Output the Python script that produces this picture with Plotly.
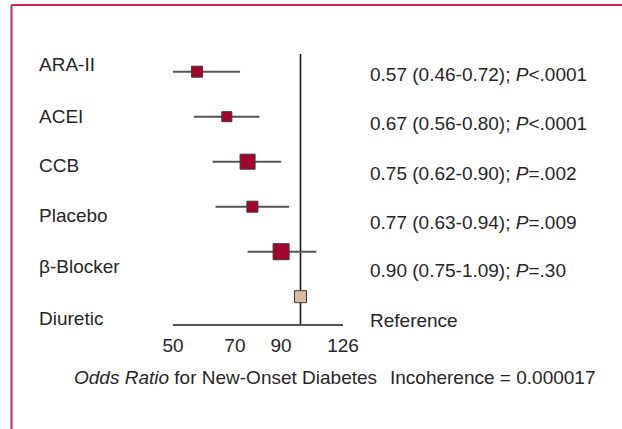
import math
import plotly.graph_objects as go

# ---- data ----
treatments = ["ARA-II", "ACEI", "CCB", "Placebo", "β-Blocker", "Diuretic"]
odds_ratio = [0.57, 0.67, 0.75, 0.77, 0.90]          # vs diuretic
ci_low = [0.46, 0.56, 0.62, 0.63, 0.75]
ci_high = [0.72, 0.80, 0.90, 0.94, 1.09]
p_text = ["&lt;.0001", "&lt;.0001", "=.002", "=.009", "=.30"]
reference_or = 1.00
tick_vals = [50, 70, 90, 126]
tick_text = ["50", "70", "90", "126"]
incoherence = "0.000017"

# ---- layout helpers (pixel -> paper) ----
W, H = 622, 429
L, R, T, B = 173, 343, 54, 324


def px(x):
    return (x - L) / (R - L)


def py(y):
    return (B - y) / (B - T)


FONT = "Liberation Sans, Arial, sans-serif"
TXT = "#262626"
RED = "#a6002f"
TAN = "#d8b9a1"

rows = list(range(len(treatments) - 1, -1, -1))   # 5 ... 0
scale = 100.0

x_or = [v * scale for v in odds_ratio]
sizes = [11, 10, 15, 11, 16]

fig = go.Figure()

# reference line (OR = 1)
fig.add_shape(type="line", xref="x", yref="paper",
              x0=reference_or * scale, x1=reference_or * scale, y0=0, y1=1,
              line=dict(color="#1a1a1a", width=1.6), layer="below")

# confidence interval lines
for lo, hi, r in zip(ci_low, ci_high, rows[:5]):
    fig.add_trace(go.Scatter(
        x=[lo * scale, hi * scale], y=[r, r], mode="lines",
        line=dict(color="#555555", width=2),
        hoverinfo="skip", showlegend=False))

fig.add_trace(go.Scatter(
    x=x_or, y=rows[:5], mode="markers",
    marker=dict(symbol="square", size=sizes, color=RED, opacity=1,
                line=dict(color="#3a3a3a", width=1)),
    hoverinfo="skip", showlegend=False))

fig.add_trace(go.Scatter(
    x=[reference_or * scale], y=[rows[5]], mode="markers",
    marker=dict(symbol="square", size=12, color=TAN, opacity=1,
                line=dict(color="#3a3a3a", width=1)),
    hoverinfo="skip", showlegend=False))

annotations = []
label_y = [64, 116, 165, 215, 266, 318]
for name, yy in zip(treatments, label_y):
    annotations.append(dict(text=name, xref="paper", yref="paper",
                            x=px(37), y=py(yy), xanchor="left", yanchor="middle",
                            showarrow=False, font=dict(size=19, color=TXT, family=FONT)))

stat_y = [75, 123, 173, 222, 270]
for v, l, h, p, yy in zip(odds_ratio, ci_low, ci_high, p_text, stat_y):
    s = f"{v:.2f} ({l:.2f}-{h:.2f}); <i>P</i>{p}"
    annotations.append(dict(text=s, xref="paper", yref="paper",
                            x=px(368), y=py(yy), xanchor="left", yanchor="middle",
                            showarrow=False, font=dict(size=19, color=TXT, family=FONT)))
annotations.append(dict(text="Reference", xref="paper", yref="paper",
                        x=px(368), y=py(320), xanchor="left", yanchor="middle",
                        showarrow=False, font=dict(size=19, color=TXT, family=FONT)))
annotations.append(dict(text="<i>Odds Ratio</i> for New-Onset Diabetes", xref="paper", yref="paper",
                        x=px(72), y=py(377), xanchor="left", yanchor="middle",
                        showarrow=False, font=dict(size=19, color=TXT, family=FONT)))
annotations.append(dict(text=f"Incoherence = {incoherence}", xref="paper", yref="paper",
                        x=px(388), y=py(377), xanchor="left", yanchor="middle",
                        showarrow=False, font=dict(size=19, color=TXT, family=FONT)))

# frame: top and left crimson lines
shapes = [
    dict(type="line", xref="paper", yref="paper", x0=px(11.5), x1=px(W + 2),
         y0=py(5), y1=py(5), line=dict(color="#c8294f", width=2)),
    dict(type="line", xref="paper", yref="paper", x0=px(11.5), x1=px(11.5),
         y0=py(5), y1=py(H + 2), line=dict(color="#c8294f", width=2)),
]
for s in shapes:
    fig.add_shape(**s)

fig.update_layout(
    width=W, height=H,
    margin=dict(l=L, r=W - R, t=T, b=H - B, autoexpand=False),
    paper_bgcolor="white", plot_bgcolor="white",
    annotations=annotations,
    xaxis=dict(type="log", range=[math.log10(50), math.log10(126)],
               tickvals=tick_vals, ticktext=tick_text, tickangle=0,
               ticklabelstandoff=3,
               showgrid=False, zeroline=False, showline=True,
               linecolor="#555555", linewidth=2, ticks="",
               tickfont=dict(size=19, color=TXT, family=FONT),
               fixedrange=True),
    yaxis=dict(range=[(296.7 - 324) / 45, (296.7 - 54) / 45],
               visible=False, showgrid=False, zeroline=False, fixedrange=True),
)

fig.write_html("out.html", config={"displayModeBar": False},
               post_script="document.body.style.margin='0';document.body.style.overflow='hidden';")
